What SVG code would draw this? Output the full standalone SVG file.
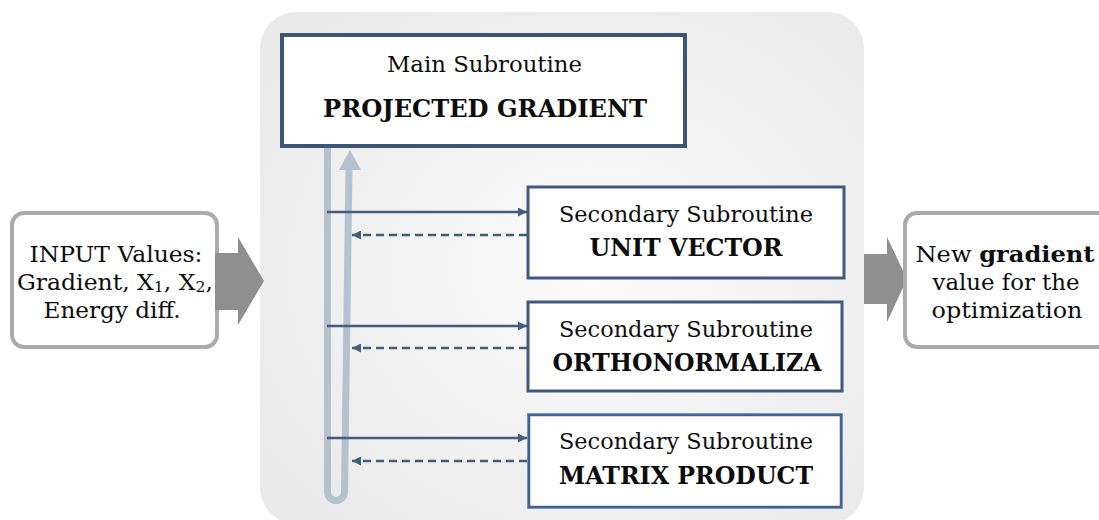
<svg xmlns="http://www.w3.org/2000/svg" width="1099" height="520" viewBox="0 0 1099 520">
<defs>
<radialGradient id="panelGrad" cx="0.55" cy="0.5" r="0.65">
<stop offset="0" stop-color="#fbfbfb"/>
<stop offset="1" stop-color="#eaeaea"/>
</radialGradient>
<marker id="ah" viewBox="0 0 10 10" refX="10" refY="5" markerWidth="10" markerHeight="9" markerUnits="userSpaceOnUse" orient="auto">
<path d="M0,0 L10,5 L0,10 Z" fill="#435c7b"/>
</marker>
</defs>
<style>
.t{font-family:"DejaVu Serif","Liberation Serif",serif;fill:#0d0d0d;text-anchor:middle}
.r{font-size:22.5px}
.b{font-size:23.5px;font-weight:bold}
.sub{stroke:#3f5a7d;stroke-width:3;fill:#fff}
.io{stroke:#ababab;stroke-width:4;fill:#fff}
.big{fill:#8f8f8f}
.solid{stroke:#435c7b;stroke-width:2.5;fill:none;marker-end:url(#ah)}
.dash{stroke:#435c7b;stroke-width:2.5;fill:none;stroke-dasharray:8 5;marker-end:url(#ah)}
</style>
<rect id="panel" x="260" y="12" width="604" height="512" rx="36" fill="url(#panelGrad)"/>
<g id="input">
<rect class="io" x="12" y="213" width="205" height="134" rx="12"/>
<text class="t r" x="116" y="262" textLength="173" lengthAdjust="spacingAndGlyphs">INPUT Values:</text>
<text class="t r" x="115" y="290" textLength="196" lengthAdjust="spacingAndGlyphs">Gradient, X<tspan font-size="15" dy="2">1</tspan><tspan dy="-2">, X</tspan><tspan font-size="15" dy="2">2</tspan><tspan dy="-2">,</tspan></text>
<text class="t r" x="112" y="318" textLength="137" lengthAdjust="spacingAndGlyphs">Energy diff.</text>
</g>
<g id="arrow-in">
<path class="big" d="M215,253 L238,253 L238,237 L264,281 L238,325 L238,310 L215,310 Z"/>
</g>
<g id="arrow-out">
<path class="big" d="M864,254 L887,254 L887,237 L907,279 L887,322 L887,304 L864,304 Z"/>
</g>
<g id="output">
<rect class="io" x="905" y="213" width="230" height="134" rx="12"/>
<text class="t r" x="1005" y="262" textLength="179" lengthAdjust="spacingAndGlyphs">New <tspan font-weight="bold">gradient</tspan></text>
<text class="t r" x="1006" y="290" textLength="147" lengthAdjust="spacingAndGlyphs">value for the</text>
<text class="t r" x="1007" y="318" textLength="151" lengthAdjust="spacingAndGlyphs">optimization</text>
</g>
<g id="connectors">
<path d="M327.5,148 L327.5,492 A8.5,8.5 0 0 0 344.5,492 L349,166" stroke="#b4c1ce" stroke-width="7" fill="none"/>
<path d="M339,170 L350,150 L361,170 Z" fill="#b4c1ce"/>
<line class="solid" x1="327" y1="212" x2="527" y2="212"/>
<line class="dash" x1="527" y1="235" x2="352" y2="235"/>
<line class="solid" x1="327" y1="326" x2="527" y2="326"/>
<line class="dash" x1="527" y1="348" x2="352" y2="348"/>
<line class="solid" x1="327" y1="438" x2="527" y2="438"/>
<line class="dash" x1="527" y1="461" x2="352" y2="461"/>
</g>
<g id="main">
<rect x="282" y="35" width="403" height="111" fill="#fff" stroke="#3e5573" stroke-width="4"/>
<text class="t r" x="484.5" y="72" textLength="195" lengthAdjust="spacingAndGlyphs">Main Subroutine</text>
<text class="t b" x="485" y="117" textLength="324" lengthAdjust="spacingAndGlyphs">PROJECTED GRADIENT</text>
</g>
<g id="unit-vector">
<rect class="sub" x="528" y="187" width="316" height="91"/>
<text class="t r" x="686" y="222" textLength="254" lengthAdjust="spacingAndGlyphs">Secondary Subroutine</text>
<text class="t b" x="686" y="256" textLength="193" lengthAdjust="spacingAndGlyphs">UNIT VECTOR</text>
</g>
<g id="orthonormaliza">
<rect class="sub" x="528" y="302" width="314" height="89"/>
<text class="t r" x="686" y="337" textLength="254" lengthAdjust="spacingAndGlyphs">Secondary Subroutine</text>
<text class="t b" x="687" y="371" textLength="269" lengthAdjust="spacingAndGlyphs">ORTHONORMALIZA</text>
</g>
<g id="matrix-product">
<rect x="527.5" y="413.5" width="315" height="95" fill="none" stroke="#8ba6cc" stroke-width="1"/>
<rect x="529" y="415" width="312" height="92" fill="#fff" stroke="#44628e" stroke-width="2.5"/>
<text class="t r" x="686" y="449" textLength="254" lengthAdjust="spacingAndGlyphs">Secondary Subroutine</text>
<text class="t b" x="686" y="484" textLength="254" lengthAdjust="spacingAndGlyphs">MATRIX PRODUCT</text>
</g>
</svg>
